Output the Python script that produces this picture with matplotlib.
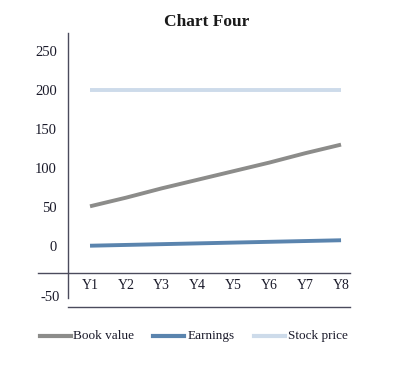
import matplotlib
matplotlib.use("Agg")
import matplotlib.pyplot as plt
from matplotlib.lines import Line2D
from matplotlib.transforms import blended_transform_factory

categories = ["Y1", "Y2", "Y3", "Y4", "Y5", "Y6", "Y7", "Y8"]
book_value = [51, 62, 74, 85, 96, 107, 119, 130]
earnings = [0.5, 1.5, 2.5, 3.5, 4.5, 5.5, 6.5, 7.5]
stock_price = [200, 200, 200, 200, 200, 200, 200, 200]
series_names = ["Book value", "Earnings", "Stock price"]
colors = ["#8c8c8a", "#5a84ae", "#cddbea"]
yticks = [-50, 0, 50, 100, 150, 200, 250]

plt.rcParams['font.family'] = ['Liberation Serif', 'DejaVu Serif']
W, H = 398, 365
fig = plt.figure(figsize=(W / 100, H / 100), dpi=100)

def fx(px):
    return px / W

def fy(py):
    return 1 - py / H

ax_left, ax_right, ax_top, ax_bot = 68, 350, 33, 307
ax = fig.add_axes([fx(ax_left), fy(ax_bot), fx(ax_right - ax_left), (ax_bot - ax_top) / H])
ax.set_ylim(-78, 273)
ax.set_xlim(-0.614, 7.25)

x = list(range(len(categories)))
for vals, c in zip([book_value, earnings, stock_price], colors):
    ax.plot(x, vals, color=c, lw=2.8, solid_capstyle='butt', zorder=3)

axc = "#4b4b5c"
for s in ["top", "right"]:
    ax.spines[s].set_visible(False)
ax.spines["left"].set_color(axc)
ax.spines["left"].set_linewidth(1.0)
ax.spines["left"].set_bounds(-66.5, 273)
ax.spines["bottom"].set_color(axc)
ax.spines["bottom"].set_linewidth(1.0)

tr = blended_transform_factory(ax.transAxes, ax.transData)
ax.plot([-0.106, 1.0], [-34.6, -34.6], color=axc, lw=1.0, transform=tr, clip_on=False)

txtc = "#1a1a2a"
ax.set_xticks([])
ax.set_yticks([v for v in yticks if v != -50])
ax.set_yticklabels([str(v) for v in yticks if v != -50], fontsize=10.5, color=txtc)
ax.tick_params(axis='y', length=0, pad=8)
ax.text(-0.03, -66, "-50", transform=tr, ha='right', va='center', fontsize=10.5, color=txtc)

for xi, lab in zip(x, categories):
    ax.text(xi, -50, lab, ha='center', va='center', fontsize=10, color=txtc)

fig.text(fx(207), fy(22), "Chart Four", ha='center', va='center', fontsize=12.5, fontweight='bold', color="#1a1a1a")

# legend
leg_y = fy(336)
leg = [(40, 71, 73), (153, 184, 188), (254, 285, 288)]
for (x0, x1, tx), name, c in zip(leg, series_names, colors):
    fig.add_artist(Line2D([fx(x0), fx(x1)], [leg_y, leg_y], color=c, lw=3.0, transform=fig.transFigure))
    fig.text(fx(tx), leg_y, name, ha='left', va='center', fontsize=9.5, color=txtc)

fig.savefig("out.png", dpi=100)
